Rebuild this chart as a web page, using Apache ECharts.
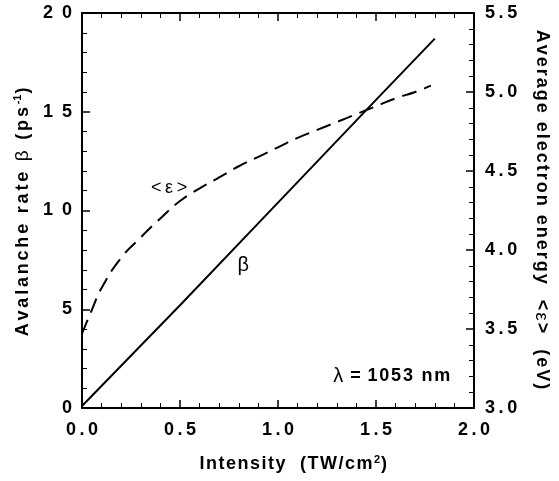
<!DOCTYPE html>
<html>
<head>
<meta charset="utf-8">
<script src="https://cdn.jsdelivr.net/npm/echarts@6/dist/echarts.min.js"></script>
<style>html,body{margin:0;padding:0;background:#fff}#c{width:559px;height:481px}</style>
</head>
<body>
<div id="c"></div>
<script>
// Data
var intensity = [0.0, 0.5, 1.0, 1.5, 1.8];
var beta = [0.1, 5.2, 10.4, 15.6, 18.7];
var energyX = [0.0, 0.05, 0.1, 0.2, 0.3, 0.4, 0.5, 0.6, 0.7, 0.8, 0.9, 1.0, 1.1, 1.2, 1.3, 1.4, 1.5, 1.6, 1.7, 1.78];
var energy = [3.47, 3.62, 3.76, 3.95, 4.08, 4.2, 4.31, 4.39, 4.46, 4.53, 4.59, 4.65, 4.71, 4.76, 4.81, 4.86, 4.91, 4.96, 5.0, 5.04];
var xTicks = ['0.0', '0.5', '1.0', '1.5', '2.0'];
var leftTicks = ['0', '5', '1 0', '1 5', '2 0'];
var rightTicks = ['3.0', '3.5', '4.0', '4.5', '5.0', '5.5'];

var FONT = '"Liberation Sans", Arial, Helvetica, sans-serif';
var TS = '\u2009';
function spaced(s){ return s.split('').join(TS); }
// letter-tracked rich text: each character its own fragment
function track(str, style){
  return str.split('').map(function(c){ return '{' + style + '|' + c + '}'; }).join('');
}

var chart = echarts.init(document.getElementById('c'), null, {renderer: 'canvas'});
function axisLine(){ return {show: true, onZero: false, lineStyle: {color: '#000', width: 2}}; }
function tick(){ return {show: true, inside: true, length: 8, lineStyle: {color: '#000', width: 1.5}}; }
function minor(){ return {show: true, splitNumber: 5, length: 5, lineStyle: {color: '#000', width: 1}}; }
function lbl(extra){ return Object.assign({color: '#000', fontFamily: FONT, fontWeight: 'bold', fontSize: 18}, extra); }
function nameStyle(sz, tr){
  return {
    b: {fontFamily: FONT, fontWeight: 'bold', fontSize: sz, color: '#000', padding: [0, tr, 0, 0]},
    g: {fontFamily: FONT, fontWeight: 'normal', fontSize: sz + 1, color: '#000', padding: [0, tr, 0, 0]},
    sup: {fontFamily: FONT, fontWeight: 'bold', fontSize: 11, color: '#000', padding: [0, 1, 10, 0]}
  };
}

chart.setOption({
  animation: false,
  backgroundColor: '#fff',
  grid: {left: 82, right: 81, top: 13, bottom: 73},
  xAxis: [{
    type: 'value', min: 0, max: 2, interval: 0.5, position: 'bottom',
    axisLine: axisLine(), axisTick: tick(), minorTick: minor(), splitLine: {show: false},
    axisLabel: lbl({margin: 13, formatter: function(v){ return spaced(xTicks[Math.round(v / 0.5)]); }}),
    name: track('Intensity  (TW/cm', 'b') + '{sup|2}{b|)}', nameLocation: 'middle', nameGap: 46,
    nameTextStyle: {padding: [0, 0, 0, 32], rich: nameStyle(18, 1.5)}
  }, {
    type: 'value', min: 0, max: 2, interval: 0.5, position: 'top',
    axisLine: axisLine(), axisTick: tick(), minorTick: minor(), splitLine: {show: false},
    axisLabel: {show: false}
  }],
  yAxis: [{
    type: 'value', min: 0, max: 20, interval: 5, position: 'left',
    axisLine: axisLine(), axisTick: tick(), minorTick: minor(), splitLine: {show: false},
    axisLabel: lbl({margin: 10, formatter: function(v){ return leftTicks[Math.round(v / 5)].replace(' ', '\u2002'); }}),
    name: track('Avalanche rate ', 'b') + '{g|\u03b2}' + track(' (ps', 'b') + '{sup|-1}{b|)}',
    nameLocation: 'middle', nameGap: 46, nameRotate: 90,
    nameTextStyle: {padding: [0, 0, 0, 0], rich: nameStyle(18, 2.8)}
  }, {
    type: 'value', min: 3, max: 5.5, interval: 0.5, position: 'right',
    axisLine: axisLine(), axisTick: tick(), minorTick: minor(), splitLine: {show: false},
    axisLabel: lbl({margin: 11, formatter: function(v){ return spaced(rightTicks[Math.round((v - 3) / 0.5)]); }}),
    name: track('Average electron energy  <', 'b') + '{g|\u03b5}' + track('>  (eV)', 'b'),
    nameLocation: 'middle', nameGap: 58, nameRotate: -90,
    nameTextStyle: {padding: [0, 0, 0, 0], rich: nameStyle(18, 2)}
  }],
  series: [{
    type: 'line', xAxisIndex: 0, yAxisIndex: 0, showSymbol: false, symbol: 'none', smooth: false,
    data: intensity.map(function(x, i){ return [x, beta[i]]; }),
    lineStyle: {color: '#000', width: 2},
    markPoint: {symbol: 'circle', symbolSize: 0, silent: true,
      label: {show: true, position: 'inside', color: '#000', fontFamily: FONT},
      data: [
        {coord: [0.823, 7.2], value: 'b', label: {formatter: '\u03b2', fontSize: 20}},
        {coord: [1.585, 1.62], value: 'l', label: {formatter: '{g|\u03bb}{b| = }' + track('1053', 'b') + '{b| }' + track('nm', 'b'), rich: {
          g: {fontFamily: FONT, fontSize: 20, color: '#000', padding: [0, 2, 0, 0]},
          b: {fontFamily: FONT, fontWeight: 'bold', fontSize: 18, color: '#000', padding: [0, 1.8, 0, 0]}}}}
      ]}
  }, {
    type: 'line', xAxisIndex: 0, yAxisIndex: 1, showSymbol: false, symbol: 'none', smooth: true,
    data: energyX.map(function(x, i){ return [x, energy[i]]; }),
    lineStyle: {color: '#000', width: 2, type: [15, 8]},
    markPoint: {symbol: 'circle', symbolSize: 0, silent: true,
      label: {show: true, position: 'inside', color: '#000', fontFamily: FONT},
      data: [
        {coord: [0.444, 4.39], value: 'e', label: {formatter: '<\u2009\u03b5\u2009>', fontSize: 18}}
      ]}
  }]
});
</script>
</body>
</html>
